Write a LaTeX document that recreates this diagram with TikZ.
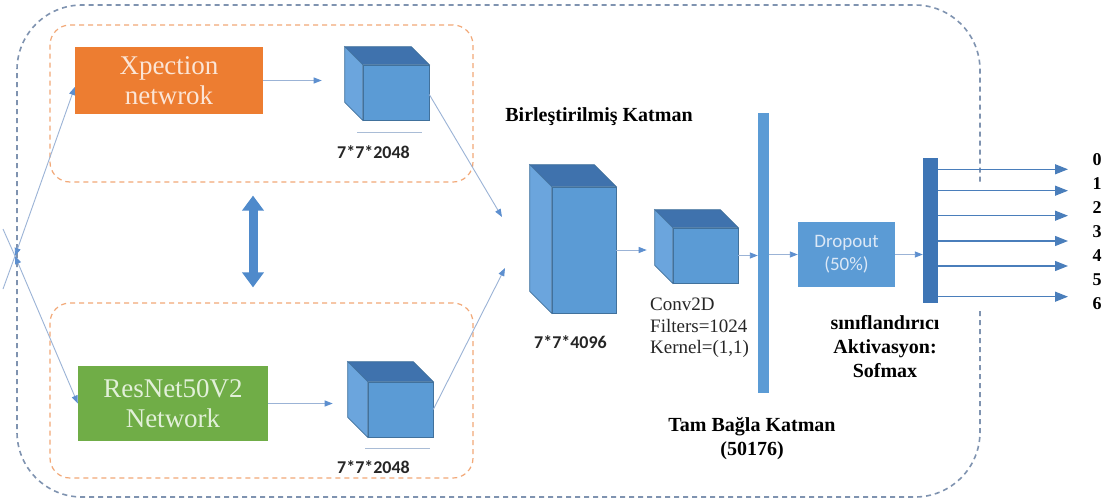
\documentclass[tikz,border=0pt]{standalone}
\usepackage{fontspec}
\setmainfont{Liberation Serif}
\newfontfamily\calfont{Carlito}
\usetikzlibrary{arrows.meta}

\definecolor{frameblue}{HTML}{7F93B0}
\definecolor{grouporange}{HTML}{F2A877}
\definecolor{xorange}{HTML}{ED7D31}
\definecolor{xtext}{HTML}{FBE5D6}
\definecolor{rgreen}{HTML}{70AD47}
\definecolor{rtext}{HTML}{E2F0D9}
\definecolor{cubefront}{HTML}{5B9BD5}
\definecolor{cubetop}{HTML}{3F72AD}
\definecolor{cubeside}{HTML}{6BA5DD}
\definecolor{cubeedge}{HTML}{41719C}
\definecolor{linkblue}{HTML}{9BB3D6}
\definecolor{tipblue}{HTML}{5D8FCF}
\definecolor{outblue}{HTML}{4A7EBB}
\definecolor{barblue}{HTML}{5B9BD5}
\definecolor{clsblue}{HTML}{3E75B5}
\definecolor{droptext}{HTML}{DCE8F6}
\definecolor{dimline}{HTML}{A9BCD6}
\definecolor{dblblue}{HTML}{4F8ACB}

% top and left faces of a cube whose front face is node #1, depth #2
\newcommand\cubefaces[2]{%
  \filldraw[fill=cubetop, draw=cubeedge, line width=0.6pt]
    (#1.north west) -- ++(-#2,-#2) -- ([shift={(-#2,-#2)}]#1.north east) -- (#1.north east) -- cycle;
  \filldraw[fill=cubeside, draw=cubeedge, line width=0.6pt]
    (#1.north west) -- ++(-#2,-#2) -- ([shift={(-#2,-#2)}]#1.south west) -- (#1.south west) -- cycle;
}

\begin{document}
\begin{tikzpicture}[x=1pt,y=-1pt,
  frame/.style={draw=frameblue, line width=1.6pt, dash pattern=on 5pt off 4pt},
  groupbox/.style={draw=grouporange, line width=1.2pt, dash pattern=on 5pt off 4pt,
    rounded corners=20pt, inner sep=0pt},
  netbox/.style={inner sep=0pt, align=center, font=\fontsize{27}{30}\selectfont},
  cubeface/.style={fill=cubefront, draw=cubeedge, line width=0.6pt, inner sep=0pt},
  bar/.style={inner sep=0pt},
  link/.style={draw=linkblue, line width=0.9pt, -{Triangle[length=8pt,width=6pt,color=tipblue]}},
  linkboth/.style={draw=linkblue, line width=0.9pt,
    {Triangle[length=8pt,width=6pt,color=tipblue]}-{Triangle[length=8pt,width=6pt,color=tipblue]}},
  outarrow/.style={draw=outblue, line width=1.3pt, -{Triangle[length=13pt,width=10pt]}},
  dblarrow/.style={draw=dblblue, line width=9pt,
    {Triangle[length=15pt,width=21pt]}-{Triangle[length=15pt,width=21pt]}},
  dimlabel/.style={inner sep=0pt, text=black!85, font=\calfont\bfseries\fontsize{18}{20}\selectfont},
  boldserif/.style={inner sep=0pt, align=center, font=\bfseries\fontsize{20}{24}\selectfont},
  convtext/.style={inner sep=0pt, align=left, text=black!85, font=\fontsize{19}{21.5}\selectfont},
  numlabel/.style={inner sep=0pt, font=\bfseries\fontsize{18}{20}\selectfont},
]
\useasboundingbox (0,0) rectangle (1111,501);
\fill[white] (0,0) rectangle (1111,501);

% outer frame, open on the right where the outputs leave
\draw[frame, rounded corners=65pt] (980,311) -- (980,497) -- (17,497) -- (17,5) -- (980,5) -- (980,184);

% the two backbone groups
\node[groupbox, minimum width=423pt, minimum height=157pt] (gtop) at (261.5,103.5) {};
\node[groupbox, minimum width=423pt, minimum height=175pt] (gbot) at (261.5,390.5) {};

% backbone networks
\node[netbox, fill=xorange, text=xtext, minimum width=188pt, minimum height=67pt] (xcep) at (169,80.5) {Xpection\\netwrok};
\node[netbox, fill=rgreen, text=rtext, minimum width=190pt, minimum height=75pt] (rnet) at (173,403.5) {ResNet50V2\\Network};

% feature cubes
\node[cubeface, minimum width=66pt, minimum height=55pt] (cx) at (396,92.5) {};
\cubefaces{cx}{18}
\node[cubeface, minimum width=65pt, minimum height=55pt] (cr) at (400.5,409.5) {};
\cubefaces{cr}{20}
\node[cubeface, minimum width=64pt, minimum height=126pt] (cm) at (584,250) {};
\cubefaces{cm}{22}
\node[cubeface, minimum width=65pt, minimum height=55pt] (cc) at (705.5,255.5) {};
\cubefaces{cc}{18}

% dimension rules under the backbone cubes
\draw[dimline, line width=1pt] (357,132) -- (422,132);
\draw[dimline, line width=1pt] (365,448) -- (430,448);

% dense, dropout and classifier layers
\node[bar, fill=barblue, minimum width=11pt, minimum height=280pt] (fc) at (763.5,253) {};
\node[inner sep=0pt, fill=barblue, minimum width=97pt, minimum height=65pt, align=center,
  text=droptext, font=\calfont\fontsize{19}{23}\selectfont] (drop) at (846.5,254.5) {Dropout\\(50\%)};
\node[bar, fill=clsblue, minimum width=15pt, minimum height=145pt] (cls) at (930.5,230.5) {};

% input split
\coordinate (in) at (15,256);
\coordinate (s1) at (3,289);
\coordinate (s2) at (3,229);
\draw[draw=linkblue, line width=0.9pt] (s1) -- (in);
\draw[draw=linkblue, line width=0.9pt] (s2) -- (in);
\draw[linkboth] (in) -- ([yshift=-6.5pt]xcep.west);
\draw[linkboth] (in) -- (rnet.west);

% backbone to cube
\draw[link, shorten >=41pt] (xcep.east) -- (xcep.east -| cx.west);
\draw[link, shorten >=35pt] (rnet.east) -- (rnet.east -| cr.west);

% cubes into the merged layer
\coordinate (m1) at (502,217);
\coordinate (m2) at (505,268);
\draw[link] ([yshift=-2pt]cx.east) -- (m1);
\draw[link] (cr.east) -- (m2);

% swap arrow between the groups
\coordinate (dx) at (253,0);
\draw[dblarrow, shorten <=13pt, shorten >=15pt] (gtop.south -| dx) -- (gbot.north -| dx);

% main chain
\draw[link, shorten >=26pt] (cm.east) -- (cm.east -| cc.west);
\draw[link] (cc.east) -- (cc.east -| fc.west);
\draw[link] (fc.east |- drop.west) -- (drop.west);
\draw[link] (drop.east) -- (drop.east -| cls.west);

% class outputs
\foreach \y [count=\i from 0] in {169.3,190.7,215.7,241,266,296.7} {
  \coordinate (t\i) at (1068,\y);
  \draw[outarrow] (cls.east |- t\i) -- (t\i);
}
\foreach \k in {0,...,6} {
  \node[numlabel, anchor=base] (n\k) at (1097,{165+24*\k}) {\k};
}

% labels
\node[dimlabel] (d1) at (373.5,152.5) {7*7*2048};
\node[dimlabel] (d2) at (373.5,467) {7*7*2048};
\node[dimlabel] (d3) at (570.5,342) {7*7*4096};
\node[boldserif, anchor=base] (tmerge) at (599,121) {Birleştirilmiş Katman};
\node[convtext, anchor=west] (tconv) at (650,328) {Conv2D\\Filters=1024\\Kernel=(1,1)};
\node[boldserif] (tfc) at (752,439) {Tam Bağla Katman\\(50176)};
\node[boldserif] (tcls) at (885,346.5) {sınıflandırıcı\\Aktivasyon:\\Sofmax};
\end{tikzpicture}
\end{document}
